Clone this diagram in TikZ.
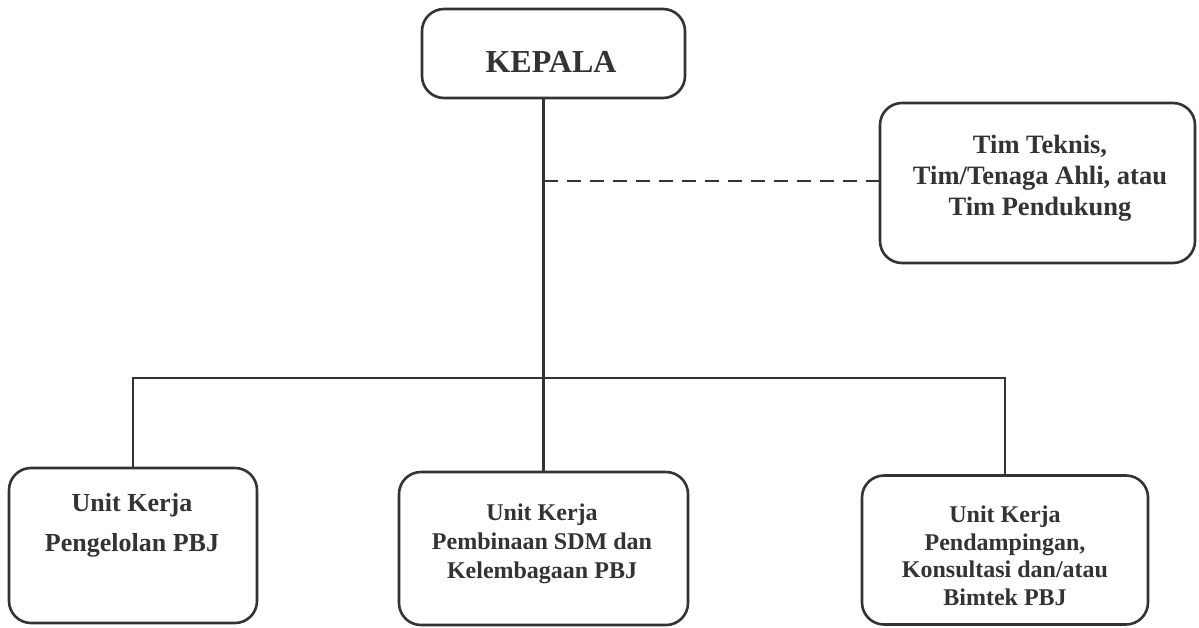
\documentclass[tikz,border=0pt]{standalone}
\usepackage{fontspec}
\setmainfont{Liberation Serif}
\definecolor{ink}{HTML}{333333}
\begin{document}
\begin{tikzpicture}[x=1pt,y=-1pt,
  box/.style={draw=ink, line width=2.6pt, rounded corners=22pt, inner sep=0pt},
  lbl/.style={text=ink, font=\bfseries, align=center, anchor=base, inner sep=0pt},
  conn/.style={draw=ink, line width=2.2pt},
  dashconn/.style={draw=ink, line width=2.2pt, dash pattern=on 14pt off 9pt}]
\useasboundingbox[fill=white] (0,0) rectangle (1199,627);
% boxes
\node[box, minimum width=263pt, minimum height=89pt] (kepala) at (553.5,53.5) {};
\node[box, minimum width=315pt, minimum height=160pt] (tim) at (1037.5,183) {};
\node[box, minimum width=248pt, minimum height=155pt] (left) at (133,545.5) {};
\node[box, minimum width=289pt, minimum height=153pt] (centre) at (543.5,548.5) {};
\node[box, minimum width=286pt, minimum height=149pt] (right) at (1005,550) {};
% connectors
\coordinate (bar) at (543.5,378);
\coordinate (dj) at (543.5,181);
\draw[conn] (kepala.south -| centre.north) -- (centre.north);
\draw[conn] (left.north) |- (bar) -| (right.north);
\draw[dashconn] (dj) -- (dj -| tim.west);
% labels (base anchor = baseline of last line)
\node[lbl, font=\bfseries\fontsize{32}{38}\selectfont] (tkepala) at (551,72) {KEPALA};
\node[lbl, font=\bfseries\fontsize{26.5}{31}\selectfont] (ttim) at (1040,215) {Tim Teknis,\\Tim/Tenaga Ahli, atau\\Tim Pendukung};
\node[lbl, font=\bfseries\fontsize{26}{40}\selectfont] (tleft) at (132,551) {Unit Kerja\\Pengelolan PBJ};
\node[lbl, font=\bfseries\fontsize{24}{29}\selectfont] (tcentre) at (542,578) {Unit Kerja\\Pembinaan SDM dan\\Kelembagaan PBJ};
\node[lbl, font=\bfseries\fontsize{24}{27.5}\selectfont] (tright) at (1005,605) {Unit Kerja\\Pendampingan,\\Konsultasi dan/atau\\Bimtek PBJ};
\end{tikzpicture}
\end{document}
